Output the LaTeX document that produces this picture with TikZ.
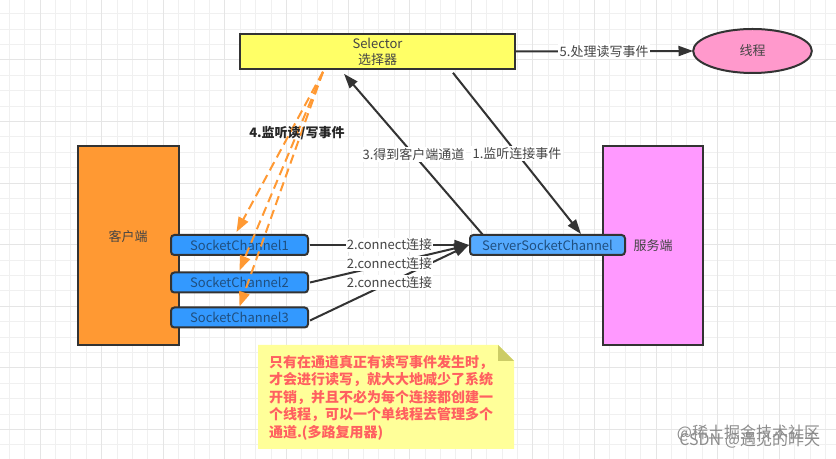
\documentclass[tikz,border=0pt]{standalone}
\usepackage{fontspec}
\setmainfont{Noto Sans CJK SC}
\usetikzlibrary{arrows.meta, calc, shapes.geometric}
\definecolor{gridminor}{HTML}{F0F0F0}
\definecolor{gridmajor}{HTML}{E5E5E5}
\definecolor{linedark}{HTML}{333333}
\definecolor{textdark}{HTML}{444444}
\definecolor{dashorange}{HTML}{FF9933}
\definecolor{notered}{HTML}{FF6060}
\definecolor{channelblue}{HTML}{3399FF}
\definecolor{serverblue}{HTML}{55AAFF}
\definecolor{channeltext}{HTML}{1F4F80}
\definecolor{selectoryellow}{HTML}{FFFF66}
\definecolor{threadpink}{HTML}{FF99CC}
\definecolor{servermagenta}{HTML}{FF99FF}
\definecolor{notefill}{HTML}{FFFF99}
\definecolor{notefold}{HTML}{CCCC66}
\begin{document}
\begin{tikzpicture}[x=0.75pt, y=-0.75pt,
    every node/.style={font=\fontsize{9.75}{12}\selectfont, text=textdark, align=center, inner sep=0pt, outer sep=0pt},
    block/.style={draw=linedark, line width=1.5pt, minimum width=#1*0.75pt},
    channel/.style={block=#1, fill=channelblue, rounded corners=2.5pt, minimum height=15pt, text=channeltext},
    tag/.style={fill=white, inner sep=1pt},
    link/.style={draw=linedark, line width=1.5pt, -{Triangle[length=11pt, width=7.5pt]}},
    listen/.style={draw=dashorange, line width=1.5pt, dash pattern=on 7pt off 4pt, -{Triangle[length=11pt, width=8pt]}}]
\useasboundingbox (0,0) rectangle (836,459);
\fill[white] (0,0) rectangle (836,459);
% Grid
\foreach \x in {9.2,24.6,...,836} \draw[gridminor, line width=0.75pt] (\x,0) -- (\x,459);
\foreach \y in {13.8,29.2,...,459} \draw[gridminor, line width=0.75pt] (0,\y) -- (836,\y);
\foreach \x in {40,101.6,...,836} \draw[gridmajor, line width=0.75pt] (\x,0) -- (\x,459);
\foreach \y in {60,121.6,...,459} \draw[gridmajor, line width=0.75pt] (0,\y) -- (836,\y);
% Nodes
\node (selector) [block=275, fill=selectoryellow, minimum height=26pt] at (377.5,51.5) {Selector\\选择器};
\node (thread) [draw=linedark, line width=1.5pt, ellipse, fill=threadpink, minimum width=89pt, minimum height=33pt] at (752.5,51) {线程};
\node (client) [block=101, fill=dashorange, minimum height=149pt] at (128.5,245.5) {};
\node (clienttext) at (128,237) {客户端};
\node (server) [block=100, fill=servermagenta, minimum height=149pt] at (653,245.5) {};
\node (servertext) at (653,246) {服务端};
\node (sc1) [channel=137] at (239.5,245) {SocketChannel1};
\node (sc2) [channel=137] at (239.5,282.5) {SocketChannel2};
\node (sc3) [channel=137] at (239.5,317.5) {SocketChannel3};
\node (ssc) [channel=155, fill=serverblue] at (547.5,245) {ServerSocketChannel};
% Arrows
\draw[link] ($(selector.south east)+(-62,4)$) -- node[tag] {1.监听连接事件} ($(ssc.north)+(33.5,-1)$);
\draw[link] ($(ssc.north)+(-64.5,0)$) -- node[tag] {3.得到客户端通道} ($(selector.south west)+(104,5)$);
\draw[link] (selector.east) -- node[tag] {5.处理读写事件} (thread.west);
\draw[link] ($(sc3.east)+(2,3)$) -- node[tag] {2.connect连接} ($(ssc.west)+(-1,0)$);
\draw[link] ($(sc2.east)+(2,0)$) -- node[tag] {2.connect连接} ($(ssc.west)+(-1,0)$);
\draw[link] ($(sc1.east)+(2,0)$) -- node[tag] {2.connect连接} ($(ssc.west)+(-1,0)$);
\draw[listen] ($(selector.south west)+(83,3)$) -- ($(sc1.north)+(-3,-3)$);
\draw[listen] ($(selector.south west)+(83,3)$) -- ($(sc2.north)+(0,-2)$);
\draw[listen] ($(selector.south west)+(83,3)$) -- ($(sc3.north)+(0,-1)$);
\node (listenlabel) [text=black!85, font=\fontsize{9.75}{12}\selectfont\bfseries] at (297,133) {4.监听读/写事件};
% Note
\fill[notefill] (258,345) -- (498,345) -- (514,361) -- (514,449) -- (258,449) -- cycle;
\fill[notefold] (498,345) -- (514,361) -- (498,361) -- cycle;
\node (note) [anchor=north west, align=left, text=notered, font=\fontsize{10.5}{13.2}\selectfont\bfseries] at (269,355) {只有在通道真正有读写事件发生时，\\才会进行读写，就大大地减少了系统\\开销，并且不必为每个连接都创建一\\个线程，可以一个单线程去管理多个\\通道.(多路复用器)};
% Watermarks
\node (mark1) [anchor=east, text=black!45, font=\fontsize{12}{14}\selectfont] at (820,433) {@稀土掘金技术社区};
\node (mark2) [anchor=east, text=black!45, font=\fontsize{12}{14}\selectfont] at (820,440) {CSDN @遇见的昨天};
\end{tikzpicture}
\end{document}
